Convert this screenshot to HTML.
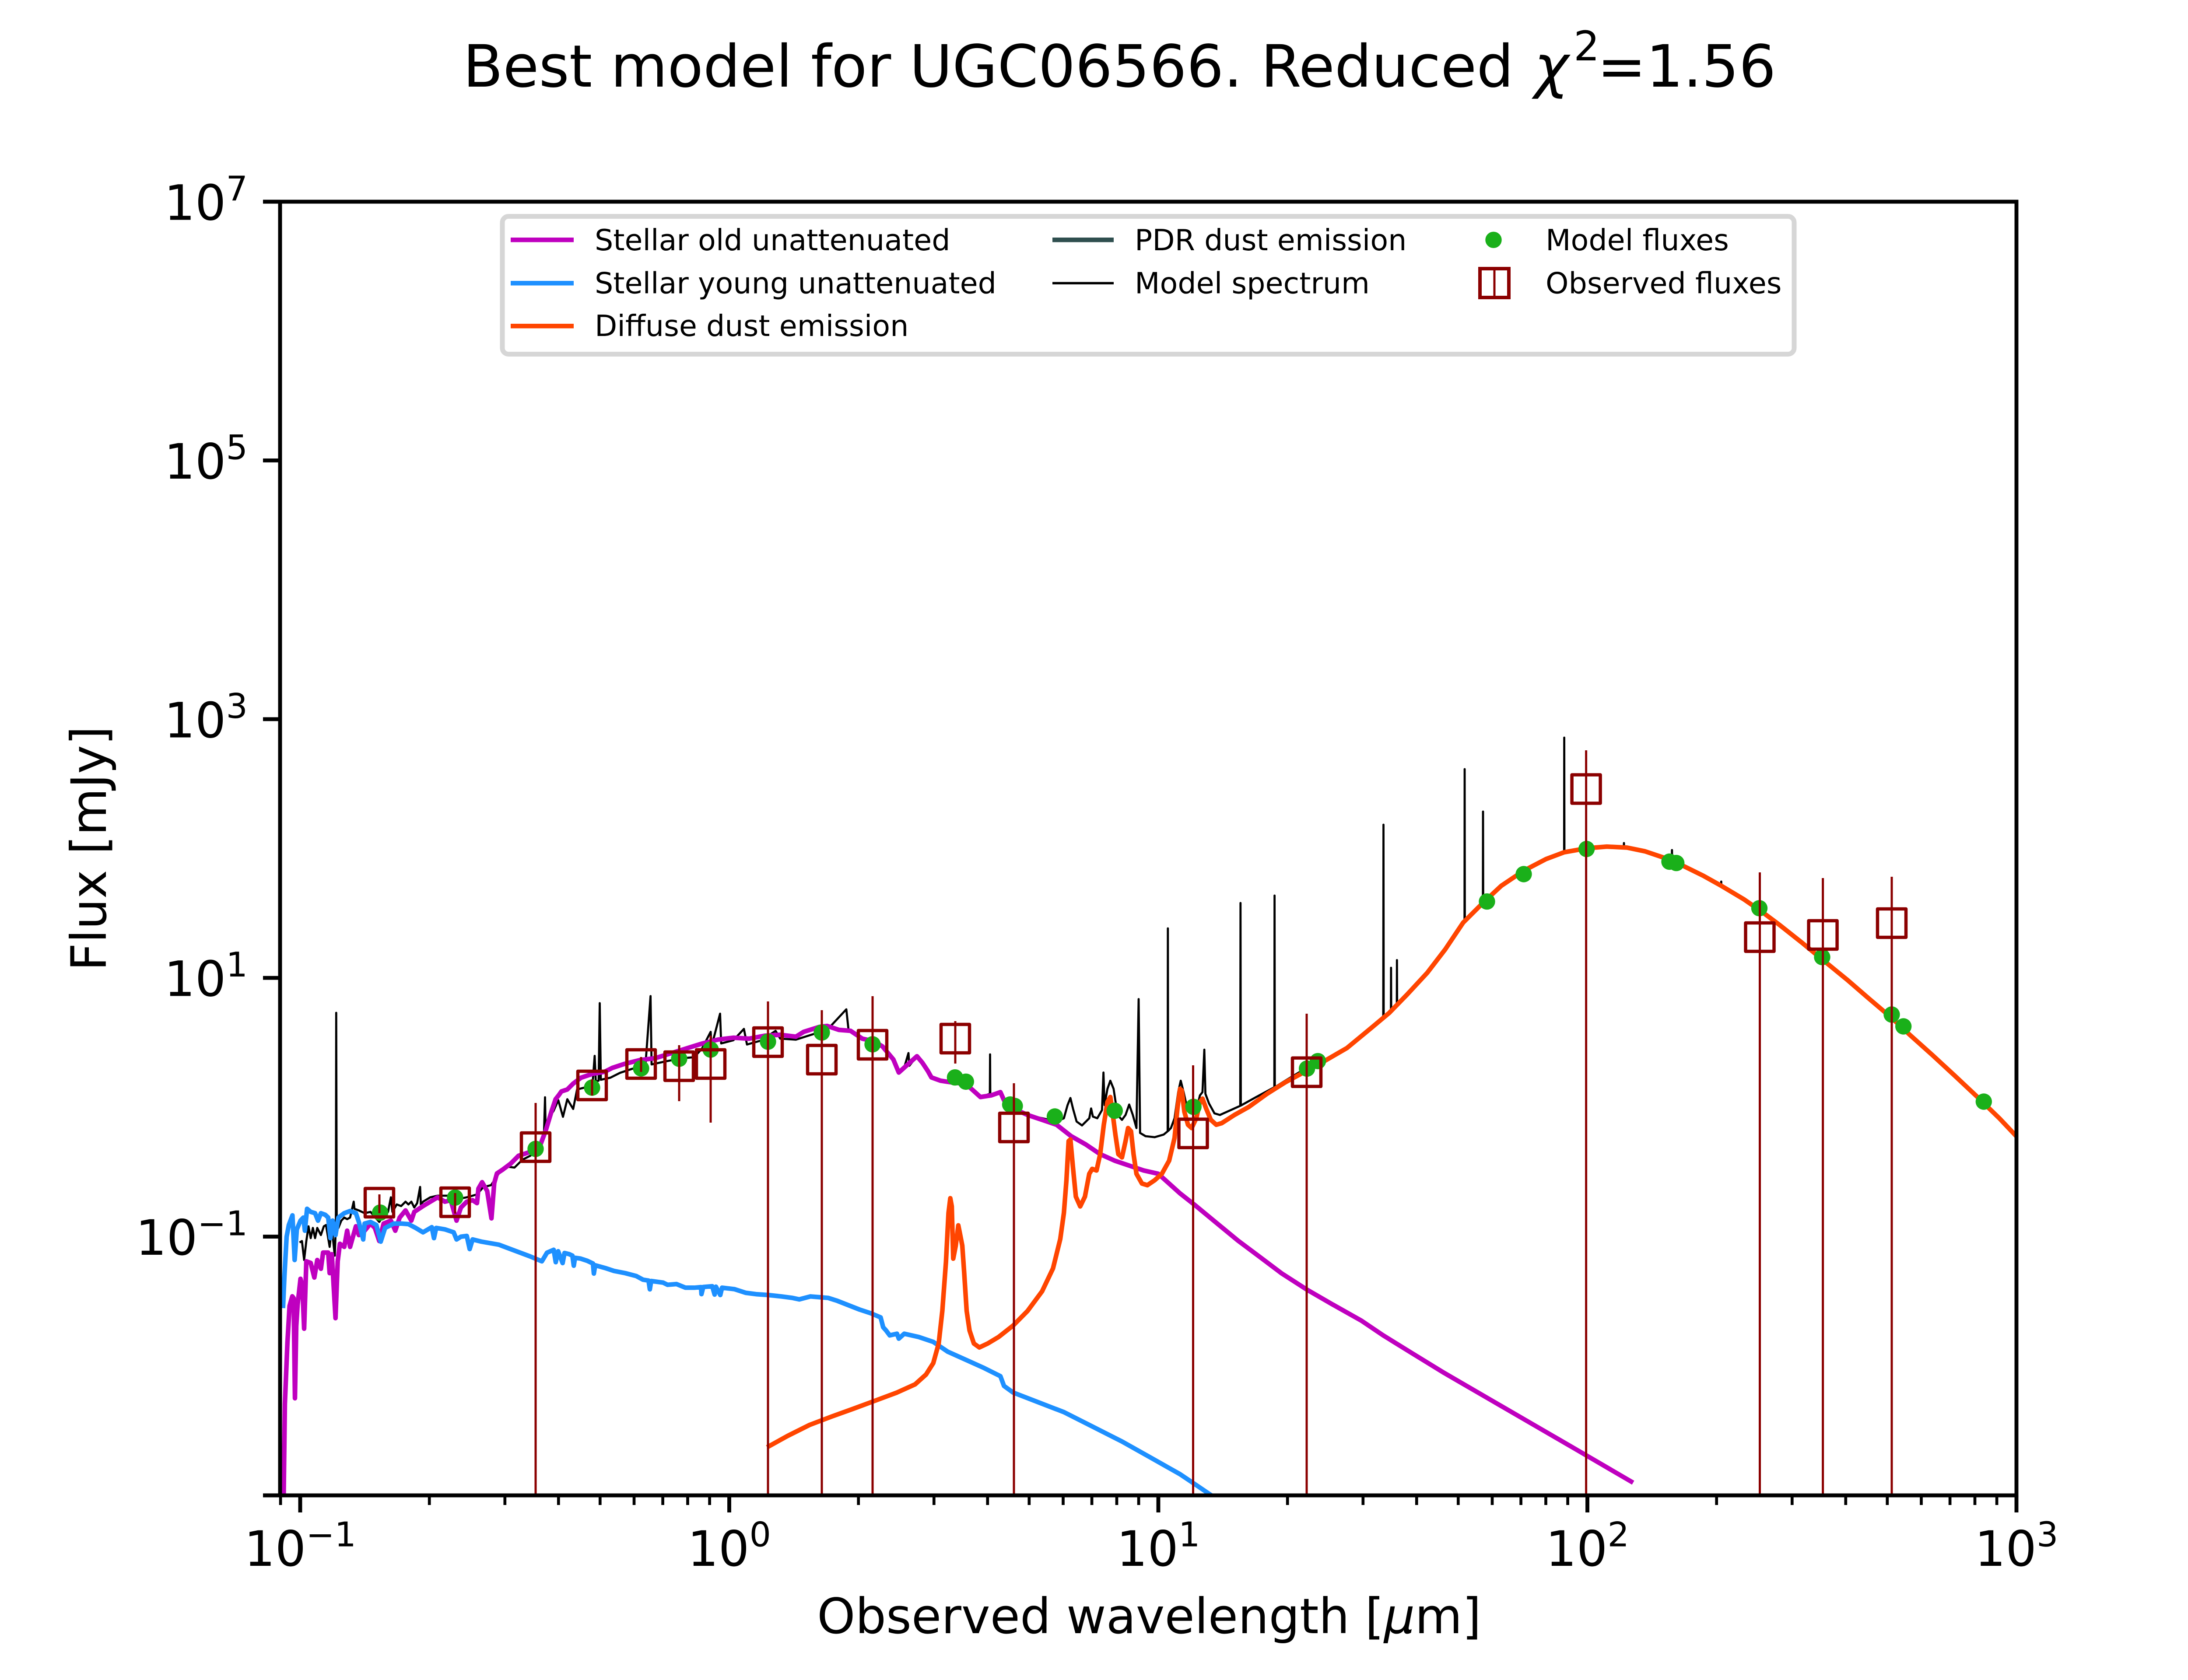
<!DOCTYPE html>
<html>
<head>
<meta charset="utf-8">
<style>
html,body{margin:0;padding:0;background:#fff;}
svg{display:block;}
text{font-family:"DejaVu Sans","Liberation Sans",sans-serif;fill:#000;}
</style>
</head>
<body>
<svg xmlns="http://www.w3.org/2000/svg" width="5120" height="3840" viewBox="0 0 5120 3840">
<rect x="0" y="0" width="5120" height="3840" fill="#fff"/>
<defs>
<clipPath id="ax"><rect x="640" y="461" width="3968" height="2957"/></clipPath>
</defs>

<!-- Title -->
<text x="1058" y="198" font-size="133.3">Best model for UGC06566. Reduced</text>
<text x="3506" y="198" font-size="133.3" font-style="italic">χ</text>
<text x="3596" y="138" font-size="93.3">2</text>
<text x="3650" y="198" font-size="133.3">=1.56</text>

<g clip-path="url(#ax)" fill="none" stroke-linejoin="round" stroke-linecap="butt">
<!-- Model spectrum (black) -->
<polyline stroke="#000" stroke-width="4.8" points="684.6,2840 690,2836.7 695,2880 700,2836.7 705,2803 710,2830 715,2806.7 720,2830 725,2806.7 733.3,2823 740,2803 745,2800 753.3,2850 758.3,2806.7 765,2870 767.5,2800 768.3,2315 769.5,2800 773.3,2806.7 780,2790 786.7,2783 793.3,2786.7 800,2783 808.3,2746.7 810,2763 820,2766.7 833.3,2773 846.7,2770 866.7,2793 873.3,2783 886.7,2770 893.3,2736.7 896.7,2770 906.7,2753 916.7,2756.7 926.7,2746.7 933.3,2753 940,2746.7 946.7,2760 953.3,2750 960,2713 961.7,2753 966.7,2746.7 983.3,2736.7 1000,2733 1016.7,2733 1033.3,2733 1050,2740 1066.7,2736.7 1080,2733 1090,2730 1104.4,2713.4 1122.2,2708.9 1140.1,2682 1158,2666.5 1175.8,2668.7 1193.7,2650.9 1211.5,2641.9 1229.4,2628.5 1242.8,2601.8 1245.5,2508 1247,2590 1256,2552.7 1265,2539.3 1275.8,2514.7 1286.5,2552.7 1296.4,2512.5 1309.8,2534.8 1318.7,2490.2 1336.5,2485.7 1354.4,2474.5 1358.9,2413.4 1361.5,2472.3 1368,2470 1370.5,2292.9 1373,2468 1394.6,2463.4 1416.9,2452.2 1443.7,2443.3 1475,2434.4 1486.6,2276.8 1489,2433 1524,2425.4 1559.8,2418.7 1586.6,2416.5 1604.4,2396.4 1624,2358.5 1626,2392 1645.5,2317 1648,2385 1675.9,2377.7 1700,2351.8 1707,2387.5 1738.4,2378.6 1772.3,2356.2 1783,2374 1818.8,2376.3 1854.5,2365 1890.2,2354 1934,2307 1939.3,2356.2 1961.6,2369.6 1997.4,2383 2016.6,2391.8 2041.5,2421.6 2053.9,2451.5 2066.3,2440.3 2076,2407 2078,2436 2095.4,2414.2 2107.8,2429.1 2120.2,2447.8 2128.5,2462.7 2149.3,2470.2 2174.1,2473.9 2207.3,2477.6 2223.9,2492.5 2240.5,2507.5 2262,2500 2262.5,2410 2263,2503 2286.1,2496.3 2294.4,2514.9 2315.1,2533.6 2348.3,2548.5 2381.4,2556 2414.6,2563.4 2431.2,2556 2439.5,2526.1 2446.1,2509.7 2451.9,2533.6 2460.2,2563.4 2472.6,2572.4 2489.2,2556 2493.4,2533.6 2497.5,2552.3 2507.5,2556 2518.3,2537.3 2521.6,2451.5 2524.1,2526.1 2530.7,2488.8 2537.3,2470.2 2544.8,2488.8 2553.9,2548.5 2563.9,2559.7 2572.1,2548.5 2580.4,2524.6 2588.7,2548.5 2597,2578.4 2602,2283.6 2605.3,2589.6 2617.8,2597 2638.5,2599.3 2659.2,2593.3 2668.3,2585.8 2668.8,2122 2669.5,2585 2675.8,2578.4 2684.1,2556 2692.4,2496.3 2698.2,2470.2 2704.8,2496.3 2713.1,2533.6 2721.4,2544.8 2733.8,2537.3 2742.1,2503.7 2747.9,2496.3 2752.1,2399.3 2754.6,2500 2762.9,2522.4 2775.3,2544.8 2787.7,2548.5 2812.6,2537.3 2834.2,2527.6 2834.8,2064 2835.5,2527 2870.7,2507.5 2912.1,2485.1 2912.6,2047 2913.2,2485 2937,2470.2 2986.7,2440.3 3019.9,2427.6 3078,2395.5 3133.3,2349.8 3161,2330 3161.5,1885 3162,2329 3174.4,2315.4 3178.5,2313 3178.8,2212 3179.2,2312 3192,2298 3192.3,2194.5 3192.7,2297 3215.4,2273.3 3261.5,2223.6 3302.6,2170 3343.6,2108.8 3346.7,2105 3347,1758 3347.4,2104 3388.7,2063 3389,1855 3389.4,2062.5 3430.8,2024.6 3482,1990.2 3533.3,1963.4 3574.3,1948.1 3574.6,1686 3575,1948 3625.6,1938.9 3671.8,1935.1 3710.8,1936 3711,1927 3711.3,1936 3759,1945.8 3800,1959.6 3820.5,1968 3820.8,1943 3821.1,1968.5 3841,1976.4 3892.3,2001.7 3933,2024 3933.3,2015 3933.6,2025 3984.6,2055.2 4025.6,2083.5 4066.6,2114.1 4117.9,2154.7 4164.1,2192.9 4220.5,2238.9 4271.7,2283.2 4323,2326.8 4364,2365.1 4415.3,2411 4466.6,2458.4 4517.9,2506.6 4569.2,2556.4 4620,2610"/>

<!-- Stellar old unattenuated (magenta) -->
<polyline stroke="#bf00bf" stroke-width="10.5" points="648.2,3425 651,3209 656.8,3069 661.7,2985 668,2963 671,2967 674,3196 677,3031 680,2983 686.7,2923 691,2941 695,3037 700,2883 710,2886.7 718.3,2920 725,2880 733.3,2900 738.3,2863 750,2863 753.3,2910 758.3,2866.7 766.7,3013 771.7,2883 776.7,2843 786.7,2850 793.3,2813 800,2850 813.3,2803 820,2823 833.3,2813 846.7,2796.7 856.7,2806.7 866.7,2836.7 876.7,2796.7 893.3,2790 903.3,2813 913.3,2783 926.7,2766.7 940,2790 946.7,2770 966.7,2756.7 983.3,2746.7 1000,2736.7 1016.7,2746.7 1030,2743.3 1043.3,2790 1053.3,2760 1066.7,2746.7 1080,2743.3 1090,2750 1093.3,2716.7 1101.7,2702.2 1113.3,2722.3 1123.1,2784.8 1129.4,2704.4 1135.6,2682.1 1149,2673.2 1166.9,2659.8 1184.7,2641.9 1211.5,2633 1233.8,2619.6 1247.2,2583.9 1260.6,2539.3 1269.6,2512.5 1276.7,2503.5 1283,2494.6 1296.4,2490.2 1309.8,2476.8 1327.6,2463.4 1354.4,2454.4 1381.2,2450 1399,2441 1425.8,2432.1 1461.6,2423.2 1497.3,2418.7 1533,2407.6 1568.7,2396.4 1604.4,2385.3 1640.2,2376.3 1675.9,2371.9 1711.6,2374.1 1747.3,2367.4 1783,2365.2 1818.8,2369.6 1836.6,2358.5 1872.3,2347.3 1890.2,2345 1917,2354 1943.8,2356.2 1970.6,2374.1 1997.4,2380 2016.6,2391.8 2041.5,2421.6 2053.9,2451.5 2066.3,2440.3 2082.9,2425.4 2095.4,2414.2 2107.8,2429.1 2120.2,2447.8 2128.5,2462.7 2149.3,2470.2 2174.1,2473.9 2207.3,2477.6 2223.9,2492.5 2240.5,2507.5 2265.3,2503.7 2286.1,2496.3 2294.4,2514.9 2315.1,2533.6 2348.3,2548.5 2381.4,2559.7 2414.6,2570.9 2447.8,2597 2480.9,2615.7 2514.1,2638.1 2547.3,2653 2580.4,2664.2 2613.6,2675.4 2646.8,2682.9 2663.4,2697.8 2696.5,2727.6 2729.7,2753.8 2779.4,2794.8 2829.2,2835.8 2879,2873.1 2928.7,2910.5 2986.7,2947.8 3044.8,2981.4 3111.1,3018.7 3160.9,3052.3 3227.2,3093.3 3300.2,3138.1 3400,3196 3500,3254 3600,3312 3732,3389"/>

<!-- Stellar young unattenuated (blue) -->
<polyline stroke="#1e90ff" stroke-width="10.5" points="646.7,2990 650,2916.7 655,2826.7 660,2800 668.3,2778 673.3,2880 678.3,2810 686.7,2790 693.3,2783 696.7,2813 701.7,2763 710,2770 720,2773 726.7,2790 733.3,2773 743.3,2776.7 750,2783 755,2830 760,2790 766.7,2823 773.3,2783 786.7,2773 800,2768 813.3,2773 820,2793 830,2833 833.3,2796.7 846.7,2793 860,2800 870,2838 880,2806.7 900,2796.7 916.7,2796.7 933.3,2798 950,2806.7 966.7,2816.7 986.7,2805 991.7,2830 996.7,2806.7 1016.7,2810 1036.7,2816.7 1043.3,2833 1053.3,2826.7 1066.7,2825 1073.3,2855 1080,2833 1100,2838 1140.1,2845 1175.8,2858.4 1211.5,2871.8 1238.3,2883 1250,2863.3 1265.3,2856.7 1270,2885 1275.5,2860 1285.7,2887 1290,2864 1301,2866.7 1308,2870 1311.2,2893 1314,2875 1326.5,2876.7 1341.8,2881.7 1355,2888 1357.1,2911 1360,2892 1382.7,2898.3 1403.1,2905 1428.6,2910 1454.1,2916.7 1469.4,2925 1482,2927 1485,2947 1488,2928 1515.3,2931.7 1525.5,2936.7 1545.9,2935 1566.3,2943.3 1586.7,2943.3 1602,2942 1603,2958 1607.1,2941.7 1627.6,2940 1633,2959 1636,2941 1646,2960 1650,2943.3 1678.6,2946.7 1704.1,2955 1729.6,2958.3 1755.1,2960 1785.7,2963.3 1811.2,2966.7 1826.5,2970 1852,2963.3 1872.4,2965 1892.9,2966.7 1913.3,2973.3 1938.8,2983.3 1964.3,2993.3 1989.8,3001.7 2012.4,3011.2 2018.2,3033.6 2024.9,3041.1 2033.2,3052.3 2049.8,3048.5 2053.9,3059.7 2066.3,3048.5 2099.5,3056 2132.7,3067.2 2165.8,3089.6 2207.3,3108.2 2248.8,3126.9 2286.1,3145.6 2294.4,3167.9 2315.1,3182.9 2373.1,3205.3 2431.2,3227.7 2497.5,3261.2 2563.9,3294.8 2630.2,3332.1 2696.5,3369.5 2729.7,3391.8 2780,3426"/>

<!-- Diffuse dust emission (orangered) -->
<polyline stroke="#ff4500" stroke-width="10.5" points="1753,3308 1800,3282 1850,3257 1900,3238 1950,3220 2000,3201.5 2049.8,3182.9 2091.2,3164.2 2116.1,3141.8 2132.7,3115.7 2145.1,3070.9 2153.4,2996.3 2161.7,2884.4 2167.5,2772.4 2171.6,2738.8 2175,2757.5 2178.3,2876.9 2184.1,2847 2189.9,2800.8 2193.2,2817.2 2199,2847 2203.2,2906.7 2209,2996.3 2215.6,3041.1 2225.5,3070.9 2238,3079.9 2257.1,3070.9 2281.9,3056 2315.1,3029.9 2348.3,2996.3 2381.4,2951.5 2406.3,2899.3 2422.9,2832.1 2431.2,2772.4 2437,2697.8 2442,2608.2 2446.1,2604.5 2451.9,2667.9 2458.5,2735.1 2468.5,2757.5 2479.3,2735.1 2489.2,2682.9 2495.9,2671.7 2505.8,2675.4 2514.1,2638.1 2522.4,2570.9 2530.7,2518.7 2537.3,2507.5 2543.1,2548.5 2548.9,2593.3 2555.6,2638.1 2563.9,2645.5 2572.1,2608.2 2577.9,2578.4 2584.6,2585.8 2590.4,2638.1 2597,2682.9 2609.5,2705.2 2621.9,2709 2638.5,2697.8 2655.1,2682.9 2671.7,2653 2684.1,2600.8 2690.7,2533.6 2696.5,2488.8 2700.7,2492.5 2706.5,2541.1 2714.8,2570.9 2723.1,2578.4 2733.8,2556 2742.1,2518.7 2747.9,2511.2 2756.2,2533.6 2767,2559.7 2779.4,2570.9 2791.9,2567.2 2820.9,2548.5 2854.1,2529.9 2895.5,2500 2937,2473.9 2978.5,2451.5 3019.9,2429.1 3078,2395.5 3133.3,2349.8 3174.4,2315.4 3215.4,2273.3 3261.5,2223.6 3302.6,2170 3343.6,2108.8 3389.7,2062.9 3430.8,2024.6 3482,1990.2 3533.3,1963.4 3574.3,1948.1 3625.6,1938.9 3671.8,1935.1 3717.9,1937.4 3759,1945.8 3800,1959.6 3841,1976.4 3892.3,2001.7 3933.3,2024.6 3984.6,2055.2 4025.6,2083.5 4066.6,2114.1 4117.9,2154.7 4164.1,2192.9 4220.5,2238.9 4271.7,2283.2 4323,2326.8 4364,2365.1 4415.3,2411 4466.6,2458.4 4517.9,2506.6 4569.2,2556.4 4620,2610"/>

<!-- Model fluxes (green) -->
<g fill="#1ab01a" stroke="none">
<circle cx="868.7" cy="2771.7" r="18.7"/>
<circle cx="1040" cy="2737.3" r="18.7"/>
<circle cx="1224" cy="2626" r="18.7"/>
<circle cx="1353" cy="2486" r="18.7"/>
<circle cx="1465" cy="2442" r="18.7"/>
<circle cx="1552" cy="2420" r="18.7"/>
<circle cx="1624" cy="2399" r="18.7"/>
<circle cx="1755" cy="2381" r="18.7"/>
<circle cx="1878" cy="2360" r="18.7"/>
<circle cx="1994" cy="2387" r="18.7"/>
<circle cx="2182.4" cy="2462.7" r="18.7"/>
<circle cx="2207.3" cy="2472.4" r="18.7"/>
<circle cx="2308.5" cy="2524.6" r="18.7"/>
<circle cx="2319" cy="2528" r="18.7"/>
<circle cx="2410.5" cy="2552" r="18.7"/>
<circle cx="2547.3" cy="2538.8" r="18.7"/>
<circle cx="2727.2" cy="2529.9" r="18.7"/>
<circle cx="2986.7" cy="2442.5" r="18.7"/>
<circle cx="3011.6" cy="2425.4" r="18.7"/>
<circle cx="3398" cy="2060.6" r="18.7"/>
<circle cx="3482" cy="1998" r="18.7"/>
<circle cx="3625.6" cy="1940.5" r="18.7"/>
<circle cx="3815" cy="1969.5" r="18.7"/>
<circle cx="3830.7" cy="1972.6" r="18.7"/>
<circle cx="4020.5" cy="2075.9" r="18.7"/>
<circle cx="4164" cy="2187.6" r="18.7"/>
<circle cx="4323" cy="2319" r="18.7"/>
<circle cx="4349.7" cy="2346" r="18.7"/>
<circle cx="4533.3" cy="2518" r="18.7"/>
</g>

<!-- Observed fluxes: error bars -->
<g stroke="#8b0000" stroke-width="5">
<line x1="867" y1="2730" x2="867" y2="2773"/>
<line x1="1040" y1="2727" x2="1040" y2="2774"/>
<line x1="1224" y1="2521" x2="1224" y2="3420"/>
<line x1="1353" y1="2467" x2="1353" y2="2504"/>
<line x1="1465" y1="2416" x2="1465" y2="2450"/>
<line x1="1552" y1="2389" x2="1552" y2="2517"/>
<line x1="1624" y1="2367" x2="1624" y2="2566"/>
<line x1="1755" y1="2289" x2="1755" y2="3420"/>
<line x1="1878" y1="2309" x2="1878" y2="3420"/>
<line x1="1994" y1="2277" x2="1994" y2="3420"/>
<line x1="2183" y1="2334" x2="2183" y2="2431"/>
<line x1="2317" y1="2476" x2="2317" y2="3420"/>
<line x1="2726.5" y1="2435" x2="2726.5" y2="3420"/>
<line x1="2986" y1="2317" x2="2986" y2="3420"/>
<line x1="3624.6" y1="1715" x2="3624.6" y2="3420"/>
<line x1="4021.5" y1="1994" x2="4021.5" y2="3420"/>
<line x1="4165.6" y1="2007" x2="4165.6" y2="3420"/>
<line x1="4323" y1="2004" x2="4323" y2="3420"/>
</g>
<!-- Observed fluxes: squares -->
<g fill="none" stroke="#8b0000" stroke-width="7.5">
<rect x="834.5" y="2716.5" width="65" height="65"/>
<rect x="1007.5" y="2715.5" width="65" height="65"/>
<rect x="1191.5" y="2589.5" width="65" height="65"/>
<rect x="1320.5" y="2448.5" width="65" height="65"/>
<rect x="1432.5" y="2399.5" width="65" height="65"/>
<rect x="1519.5" y="2404.5" width="65" height="65"/>
<rect x="1591.5" y="2399.5" width="65" height="65"/>
<rect x="1722.5" y="2349.5" width="65" height="65"/>
<rect x="1845.5" y="2389.5" width="65" height="65"/>
<rect x="1961.5" y="2355.5" width="65" height="65"/>
<rect x="2150.5" y="2341.5" width="65" height="65"/>
<rect x="2284.5" y="2544.5" width="65" height="65"/>
<rect x="2694" y="2558.1" width="65" height="65"/>
<rect x="2953.5" y="2418.3" width="65" height="65"/>
<rect x="3592.1" y="1771" width="65" height="65"/>
<rect x="3989" y="2109.5" width="65" height="65"/>
<rect x="4133.1" y="2104.5" width="65" height="65"/>
<rect x="4290.5" y="2077.5" width="65" height="65"/>
</g>
</g>

<!-- Legend -->
<rect x="1148" y="494.5" width="2952" height="315" rx="14" ry="14" fill="#fff" fill-opacity="0.8" stroke="#d6d6d6" stroke-width="11"/>
<g stroke-width="10.5">
<line x1="1167" y1="548.3" x2="1311" y2="548.3" stroke="#bf00bf"/>
<line x1="1167" y1="647.3" x2="1311" y2="647.3" stroke="#1e90ff"/>
<line x1="1167" y1="745.3" x2="1311" y2="745.3" stroke="#ff4500"/>
<line x1="2405" y1="548.3" x2="2545" y2="548.3" stroke="#2f4f4f"/>
<line x1="2405" y1="647.3" x2="2545" y2="647.3" stroke="#000" stroke-width="5.5"/>
</g>
<circle cx="3413" cy="548.3" r="18.7" fill="#1ab01a"/>
<rect x="3382" y="614" width="66" height="66" fill="none" stroke="#8b0000" stroke-width="8"/>
<line x1="3415" y1="610" x2="3415" y2="684" stroke="#8b0000" stroke-width="5"/>
<g font-size="66.7">
<text x="1359" y="572">Stellar old unattenuated</text>
<text x="1359" y="670.5">Stellar young unattenuated</text>
<text x="1359" y="768">Diffuse dust emission</text>
<text x="2593" y="572">PDR dust emission</text>
<text x="2593" y="670.5">Model spectrum</text>
<text x="3532" y="572">Model fluxes</text>
<text x="3532" y="670.5">Observed fluxes</text>
</g>

<!-- Axes spines -->
<rect x="640" y="461" width="3968" height="2957" fill="none" stroke="#000" stroke-width="8.9" stroke-linejoin="miter"/>

<!-- X major ticks -->
<g stroke="#000" stroke-width="8.9">
<line x1="686" y1="3418" x2="686" y2="3457"/>
<line x1="1666.5" y1="3418" x2="1666.5" y2="3457"/>
<line x1="2647" y1="3418" x2="2647" y2="3457"/>
<line x1="3627.5" y1="3418" x2="3627.5" y2="3457"/>
<line x1="4608" y1="3418" x2="4608" y2="3457"/>
</g>
<!-- X minor ticks -->
<g stroke="#000" stroke-width="6.7">
<line x1="641.1" y1="3418" x2="641.1" y2="3440"/>
<line x1="981.2" y1="3418" x2="981.2" y2="3440"/>
<line x1="1153.8" y1="3418" x2="1153.8" y2="3440"/>
<line x1="1276.3" y1="3418" x2="1276.3" y2="3440"/>
<line x1="1371.3" y1="3418" x2="1371.3" y2="3440"/>
<line x1="1449" y1="3418" x2="1449" y2="3440"/>
<line x1="1514.6" y1="3418" x2="1514.6" y2="3440"/>
<line x1="1571.5" y1="3418" x2="1571.5" y2="3440"/>
<line x1="1621.6" y1="3418" x2="1621.6" y2="3440"/>
<line x1="1961.7" y1="3418" x2="1961.7" y2="3440"/>
<line x1="2134.3" y1="3418" x2="2134.3" y2="3440"/>
<line x1="2256.8" y1="3418" x2="2256.8" y2="3440"/>
<line x1="2351.8" y1="3418" x2="2351.8" y2="3440"/>
<line x1="2429.5" y1="3418" x2="2429.5" y2="3440"/>
<line x1="2495.1" y1="3418" x2="2495.1" y2="3440"/>
<line x1="2552" y1="3418" x2="2552" y2="3440"/>
<line x1="2602.1" y1="3418" x2="2602.1" y2="3440"/>
<line x1="2942.2" y1="3418" x2="2942.2" y2="3440"/>
<line x1="3114.8" y1="3418" x2="3114.8" y2="3440"/>
<line x1="3237.3" y1="3418" x2="3237.3" y2="3440"/>
<line x1="3332.3" y1="3418" x2="3332.3" y2="3440"/>
<line x1="3410" y1="3418" x2="3410" y2="3440"/>
<line x1="3475.6" y1="3418" x2="3475.6" y2="3440"/>
<line x1="3532.5" y1="3418" x2="3532.5" y2="3440"/>
<line x1="3582.6" y1="3418" x2="3582.6" y2="3440"/>
<line x1="3922.7" y1="3418" x2="3922.7" y2="3440"/>
<line x1="4095.3" y1="3418" x2="4095.3" y2="3440"/>
<line x1="4217.8" y1="3418" x2="4217.8" y2="3440"/>
<line x1="4312.8" y1="3418" x2="4312.8" y2="3440"/>
<line x1="4390.5" y1="3418" x2="4390.5" y2="3440"/>
<line x1="4456.1" y1="3418" x2="4456.1" y2="3440"/>
<line x1="4513" y1="3418" x2="4513" y2="3440"/>
<line x1="4563.1" y1="3418" x2="4563.1" y2="3440"/>
</g>
<!-- Y major ticks -->
<g stroke="#000" stroke-width="8.9">
<line x1="601" y1="461" x2="640" y2="461"/>
<line x1="601" y1="1052.4" x2="640" y2="1052.4"/>
<line x1="601" y1="1643.8" x2="640" y2="1643.8"/>
<line x1="601" y1="2235.2" x2="640" y2="2235.2"/>
<line x1="601" y1="2826.6" x2="640" y2="2826.6"/>
<line x1="601" y1="3418" x2="640" y2="3418"/>
</g>

<!-- X tick labels -->
<g font-size="111.1" text-anchor="middle">
<text x="686" y="3579">10<tspan dy="-44.5" font-size="77.8">−1</tspan></text>
<text x="1666.5" y="3579">10<tspan dy="-44.5" font-size="77.8">0</tspan></text>
<text x="2647" y="3579">10<tspan dy="-44.5" font-size="77.8">1</tspan></text>
<text x="3627.5" y="3579">10<tspan dy="-44.5" font-size="77.8">2</tspan></text>
<text x="4608" y="3579">10<tspan dy="-44.5" font-size="77.8">3</tspan></text>
</g>
<!-- Y tick labels -->
<g font-size="111.1" text-anchor="end">
<text x="566" y="502.5">10<tspan dy="-44.5" font-size="77.8">7</tspan></text>
<text x="566" y="1093.9">10<tspan dy="-44.5" font-size="77.8">5</tspan></text>
<text x="566" y="1685.3">10<tspan dy="-44.5" font-size="77.8">3</tspan></text>
<text x="566" y="2276.7">10<tspan dy="-44.5" font-size="77.8">1</tspan></text>
<text x="566" y="2868.1">10<tspan dy="-44.5" font-size="77.8">−1</tspan></text>
</g>

<!-- Axis labels -->
<text x="2626" y="3733" font-size="111.1" text-anchor="middle">Observed wavelength [<tspan font-style="italic">μ</tspan>m]</text>
<text transform="translate(242,1939.5) rotate(-90)" x="0" y="0" font-size="111.1" text-anchor="middle">Flux [mJy]</text>
</svg>
</body>
</html>
